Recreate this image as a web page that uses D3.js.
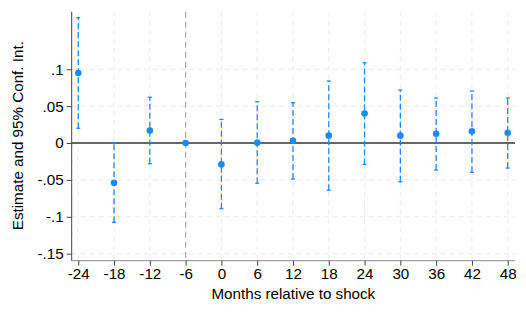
<!DOCTYPE html>
<html>
<head>
<meta charset="utf-8">
<script src="https://cdn.jsdelivr.net/npm/d3@7"></script>
<style>
  html, body { margin: 0; padding: 0; background: #fff; }
  svg text { font-family: "Liberation Sans", Arial, sans-serif; }
</style>
</head>
<body>
<svg id="chart" width="526" height="316"></svg>
<script>
// Data
const months   = [-24, -18, -12, -6, 0, 6, 12, 18, 24, 30, 36, 42, 48];
const estimate = [0.095, -0.054, 0.017, 0.0, -0.029, 0.0005, 0.003, 0.010, 0.040, 0.010, 0.0125, 0.016, 0.014];
const ciLower  = [0.020, -0.1075, -0.028, null, -0.089, -0.0545, -0.0488, -0.064, -0.029, -0.0525, -0.0366, -0.0397, -0.034];
const ciUpper  = [0.170, 0.0, 0.062, null, 0.032, 0.056, 0.0546, 0.084, 0.1088, 0.0718, 0.061, 0.0705, 0.061];
const xTicks   = [-24, -18, -12, -6, 0, 6, 12, 18, 24, 30, 36, 42, 48];
const xTickLabels = ["-24", "-18", "-12", "-6", "0", "6", "12", "18", "24", "30", "36", "42", "48"];
const yTicks   = [-0.15, -0.1, -0.05, 0, 0.05, 0.1];
const yTickLabels = ["-.15", "-.1", "-.05", "0", ".05", ".1"];
const refMonth = -6;

const svg = d3.select("#chart");
const pLeft = 71.7, pRight = 515, pTop = 11.7, pBottom = 260.7;
const fs = 15.2;

const x = d3.scaleLinear().domain([-25.1, 49.22]).range([pLeft, pRight]);
const y = d3.scaleLinear().domain([-0.1595, 0.178]).range([pBottom, pTop]);

const blue = "#1e88ff";

// Grid lines
const grid = svg.append("g");
grid.selectAll("line.hg").data(yTicks.filter(d => d !== 0)).join("line")
  .attr("x1", pLeft).attr("x2", pRight)
  .attr("y1", d => y(d)).attr("y2", d => y(d))
  .attr("stroke", "#ebebeb").attr("stroke-width", 1).attr("stroke-dasharray", "5,4");
grid.selectAll("line.vg").data(xTicks.filter(d => d !== refMonth)).join("line")
  .attr("x1", d => x(d)).attr("x2", d => x(d))
  .attr("y1", pTop).attr("y2", pBottom)
  .attr("stroke", "#ebebeb").attr("stroke-width", 1).attr("stroke-dasharray", "5,4");

// Reference vertical line
svg.append("line")
  .attr("x1", x(refMonth)).attr("x2", x(refMonth))
  .attr("y1", pTop).attr("y2", pBottom)
  .attr("stroke", "#aaaaaa").attr("stroke-width", 1.3).attr("stroke-dasharray", "6,4");

// Zero line
svg.append("line")
  .attr("x1", pLeft).attr("x2", pRight)
  .attr("y1", y(0)).attr("y2", y(0))
  .attr("stroke", "#333").attr("stroke-width", 1.3);

// Axes
const yAxis = d3.axisLeft(y).tickValues(yTicks).tickFormat((d, i) => yTickLabels[i]).tickSize(5).tickPadding(3);
const gy = svg.append("g").attr("transform", `translate(${pLeft},0)`).call(yAxis);
gy.select(".domain").attr("d", `M0,${pTop}V${pBottom}`).attr("stroke", "#444");
gy.selectAll(".tick line").attr("stroke", "#444");
gy.selectAll("text").attr("font-size", fs).attr("fill", "#000").attr("font-family", "Liberation Sans, Arial, sans-serif");

const xAxis = d3.axisBottom(x).tickValues(xTicks).tickFormat((d, i) => xTickLabels[i]).tickSize(5).tickPadding(3);
const gx = svg.append("g").attr("transform", `translate(0,${pBottom})`).call(xAxis);
gx.select(".domain").attr("d", `M${pLeft},0H${pRight}`).attr("stroke", "#888");
gx.selectAll(".tick line").attr("stroke", "#444");
gx.selectAll("text").attr("font-size", fs).attr("fill", "#000").attr("font-family", "Liberation Sans, Arial, sans-serif");

// CI
const ciData = months.map((m, i) => ({m, lo: ciLower[i], hi: ciUpper[i]})).filter(d => d.lo !== null);
const ci = svg.append("g");
ci.selectAll("line.ci").data(ciData).join("line")
  .attr("x1", d => x(d.m)).attr("x2", d => x(d.m))
  .attr("y1", d => y(d.lo)).attr("y2", d => y(d.hi))
  .attr("stroke", blue).attr("stroke-width", 1.3).attr("stroke-dasharray", "6,3");
ci.selectAll("line.capHi").data(ciData).join("line")
  .attr("x1", d => x(d.m) - 2).attr("x2", d => x(d.m) + 2)
  .attr("y1", d => y(d.hi)).attr("y2", d => y(d.hi))
  .attr("stroke", blue).attr("stroke-width", 1.3);
ci.selectAll("line.capLo").data(ciData).join("line")
  .attr("x1", d => x(d.m) - 2).attr("x2", d => x(d.m) + 2)
  .attr("y1", d => y(d.lo)).attr("y2", d => y(d.lo))
  .attr("stroke", blue).attr("stroke-width", 1.3);

// Points
svg.append("g").selectAll("circle").data(months.map((m, i) => ({m, v: estimate[i]}))).join("circle")
  .attr("cx", d => x(d.m)).attr("cy", d => y(d.v)).attr("r", 3.3)
  .attr("fill", blue);

// Axis titles
svg.append("text")
  .attr("x", (pLeft + pRight) / 2).attr("y", 299)
  .attr("text-anchor", "middle").attr("font-size", fs).attr("fill", "#000")
  .text("Months relative to shock");
svg.append("text")
  .attr("transform", `translate(23,${(pTop + pBottom) / 2 - 0.5}) rotate(-90)`)
  .attr("text-anchor", "middle").attr("font-size", fs).attr("fill", "#000")
  .text("Estimate and 95% Conf. Int.");
</script>
</body>
</html>
